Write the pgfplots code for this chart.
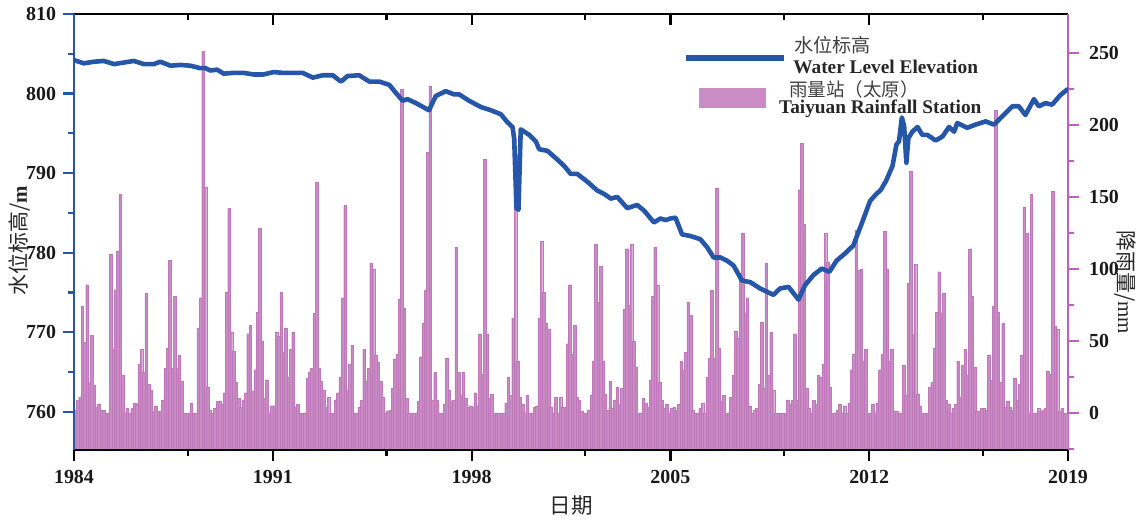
\documentclass[border=0pt]{standalone}
\usepackage{fontspec}
\setmainfont{Liberation Serif}
\newfontfamily\cjk{Noto Sans CJK SC}
\usepackage{pgfplots}
\usepackage{pgfplotstable}
\pgfplotsset{compat=1.18}
\definecolor{wlblue}{RGB}{37,86,168}
\definecolor{barfill}{RGB}{202,140,196}
\definecolor{bardraw}{RGB}{190,120,185}
\definecolor{raxis}{RGB}{188,98,188}

\pgfplotstableread{
year m1 m2 m3 m4 m5 m6 m7 m8 m9 m10 m11 m12
1984 2 9 11 74 49 89 21 54 19 4 6 2
1985 2 0 0 110 44 85 112 152 26 0 3 0
1986 3 7 6 34 44 28 83 20 16 1 5 1
1987 1 9 31 45 106 31 81 31 40 22 0 0
1988 0 7 0 0 59 80 251 157 18 2 0 3
1989 8 8 6 14 84 142 56 43 21 10 4 9
1990 14 55 61 15 30 70 128 50 10 23 0 5
1991 5 56 53 84 42 59 25 44 56 4 6 0
1992 0 0 24 28 31 69 160 31 22 16 4 11
1993 0 0 9 14 25 80 144 16 34 47 0 0
1994 4 9 44 22 31 104 100 40 35 22 11 0
1995 1 2 17 37 41 79 225 73 10 0 0 0
1996 0 8 39 62 85 181 227 9 28 9 0 0
1997 6 38 16 8 9 115 28 12 28 10 4 5
1998 4 14 5 55 27 176 55 10 13 0 0 0
1999 0 0 7 25 12 66 178 36 11 6 0 12
2000 0 0 4 5 66 119 84 62 58 4 0 11
2001 0 11 4 4 48 89 41 61 11 9 1 0
2002 0 2 12 36 117 77 102 36 13 2 22 3
2003 9 18 6 17 72 114 75 117 50 32 0 0
2004 10 7 4 23 81 115 89 21 9 3 6 0
2005 3 4 2 6 36 30 42 77 68 2 0 0
2006 3 7 0 25 38 85 38 156 45 8 12 0
2007 0 11 26 57 52 97 125 69 80 5 0 2
2008 3 20 63 17 104 26 56 16 0 0 0 0
2009 0 9 6 9 55 9 155 187 131 17 3 0
2010 9 6 26 25 34 125 105 18 0 0 2 6
2011 0 5 0 7 30 41 127 99 100 36 44 0
2012 0 6 0 7 30 41 126 100 36 44 1 1
2013 0 0 33 12 90 168 55 103 13 5 0 0
2014 0 18 21 45 70 98 69 83 9 6 0 3
2015 6 36 11 33 44 26 114 81 32 1 1 3
2016 3 2 40 23 74 210 70 21 62 4 8 4
2017 2 24 9 20 40 143 125 0 152 0 0 3
2018 1 2 3 29 27 154 60 58 1 3 0 0
}\rain

\pgfplotstableread{
x y
1984.00 804.2
1984.35 803.8
1984.70 804.0
1985.05 804.1
1985.41 803.7
1985.76 803.9
1986.11 804.1
1986.46 803.7
1986.81 803.7
1987.04 804.0
1987.40 803.5
1987.75 803.6
1988.10 803.5
1988.43 803.2
1988.63 803.2
1988.80 802.9
1989.04 803.0
1989.27 802.5
1989.62 802.6
1989.97 802.6
1990.32 802.4
1990.67 802.4
1991.03 802.7
1991.35 802.6
1991.70 802.6
1992.05 802.6
1992.41 802.0
1992.76 802.3
1993.11 802.3
1993.40 801.5
1993.63 802.2
1994.04 802.3
1994.40 801.5
1994.75 801.5
1995.10 801.1
1995.33 800.1
1995.57 799.1
1995.74 799.3
1996.04 798.8
1996.50 797.9
1996.74 799.7
1997.09 800.3
1997.38 799.9
1997.56 799.9
1997.91 799.1
1998.33 798.3
1998.68 797.9
1999.03 797.4
1999.26 796.4
1999.44 795.8
1999.50 794.3
1999.58 785.6
1999.65 785.4
1999.73 795.5
2000.03 794.8
2000.26 794.0
2000.38 793.0
2000.67 792.8
2001.02 791.7
2001.26 790.9
2001.49 789.9
2001.72 789.9
2002.08 788.9
2002.43 787.8
2002.66 787.4
2002.90 786.8
2003.13 787.0
2003.48 785.6
2003.83 786.0
2004.07 785.3
2004.42 783.8
2004.65 784.3
2004.83 784.1
2005.00 784.3
2005.18 784.4
2005.41 782.3
2005.70 782.1
2006.05 781.7
2006.29 780.7
2006.52 779.4
2006.76 779.4
2006.99 779.0
2007.22 778.4
2007.52 776.5
2007.81 776.3
2008.16 775.5
2008.51 774.9
2008.63 774.7
2008.86 775.5
2009.16 775.7
2009.51 774.1
2009.74 775.9
2010.04 777.2
2010.33 778.0
2010.60 777.6
2010.85 779.0
2011.15 779.9
2011.44 780.9
2011.73 783.6
2012.03 786.5
2012.23 787.3
2012.41 787.9
2012.59 789.0
2012.82 790.9
2012.96 793.6
2013.05 794.0
2013.15 797.0
2013.23 795.9
2013.31 791.3
2013.38 794.4
2013.52 795.2
2013.70 795.8
2013.87 794.8
2014.05 794.8
2014.34 794.1
2014.58 794.6
2014.81 795.8
2014.99 795.2
2015.10 796.3
2015.45 795.7
2015.75 796.1
2016.10 796.5
2016.39 796.1
2016.68 797.1
2017.04 798.4
2017.27 798.4
2017.50 797.3
2017.80 799.3
2017.97 798.4
2018.21 798.8
2018.44 798.6
2018.73 799.8
2018.97 800.5
}\level

\pgfplotsset{
  common/.style={
    at={(0,0)}, anchor=south west, scale only axis,
    width=497bp, height=218bp,
    xmin=1984, xmax=2019,
    xtick={1984,1991,1998,2005,2012,2019},
    minor xtick={1988,1995,2002,2009,2016},
    major tick length=5.5bp, minor tick length=3bp,
    /pgf/number format/assume math mode=true,
    /pgf/number format/1000 sep={},
    tick label style={font=\bfseries\fontsize{10}{10}\selectfont, text=black!90},
    x axis line style={black, line width=1.2bp},
    x tick style={black, line width=1.1bp},
  }
}

\begin{document}
\begin{tikzpicture}
\useasboundingbox (-37bp,-36bp) rectangle (532.5bp,225bp);
% rainfall (right axis), drawn first
\begin{axis}[common,
  ymin=0.2, ymax=303,
  axis y line*=right, axis x line*=top,
  xtick align=inside, ytick align=outside,
  xticklabels={},
  ytick={26,76,126,176,226,276},
  yticklabels={0,50,100,150,200,250},
  minor ytick={1,51,101,151,201,251},
  y axis line style={raxis, line width=1.2bp},
  y tick style={raxis, line width=1.1bp},
  yticklabel style={xshift=1.5bp},
  after end axis/.code={
    \path (rel axis cs:1,0.385) ++(28.5bp,0) node[rotate=-90, font=\fontsize{10.5}{11}\selectfont, text=black!85] {{\cjk 降雨量/}mm};
  },
]
\pgfplotsinvokeforeach{1,...,12}{
  \addplot[ybar, bar shift=0pt, bar width=0.09, fill=barfill, draw=bardraw, line width=0.12bp]
    table[x expr=\thisrow{year}+(#1-0.5)/12, y expr=\thisrow{m#1}+26] {\rain};
}
\end{axis}
% water level (left axis), on top
\begin{axis}[common,
  ymin=755.2, ymax=810,
  axis y line*=left, axis x line*=bottom,
  xtick align=outside, ytick align=outside,
  ytick={760,770,...,810},
  minor ytick={765,775,...,805},
  y axis line style={wlblue, line width=1.2bp},
  y tick style={wlblue, line width=1.1bp},
  xticklabel style={yshift=-1bp},
  after end axis/.code={
    \path (rel axis cs:0,0.48) ++(-27bp,0) node[rotate=90, font=\fontsize{10.5}{11}\selectfont, text=black!85] {{\cjk 水位标高/}\textbf{m}};
    \path (rel axis cs:0.5,0) ++(0,-27.5bp) node[font=\fontsize{10.8}{11}\selectfont, text=black!85] {\cjk 日期};
    \draw[wlblue, line width=2.6bp] (rel axis cs:0.6157,0.899) -- (rel axis cs:0.7143,0.899);
    \fill[barfill] (rel axis cs:0.6288,0.784) rectangle (rel axis cs:0.6962,0.830);
    \node[anchor=west, inner sep=0, font=\fontsize{9.6}{10}\selectfont, text=black!75] at (rel axis cs:0.7243,0.929) {\cjk 水位标高};
    \node[anchor=west, inner sep=0, font=\bfseries\fontsize{9.7}{10}\selectfont, text=black!85] at (rel axis cs:0.7233,0.879) {Water Level Elevation};
    \node[anchor=west, inner sep=0, font=\fontsize{9.3}{10}\selectfont, text=black!75] at (rel axis cs:0.7190,0.828) {\cjk 雨量站（太原）};
    \node[anchor=west, inner sep=0, font=\bfseries\fontsize{9.7}{10}\selectfont, text=black!85] at (rel axis cs:0.7090,0.782) {Taiyuan Rainfall Station};
  },
]
\addplot[wlblue, line width=2.3bp, line join=round, line cap=round, no marks] table[x=x, y=y] {\level};
\end{axis}
\end{tikzpicture}
\end{document}
